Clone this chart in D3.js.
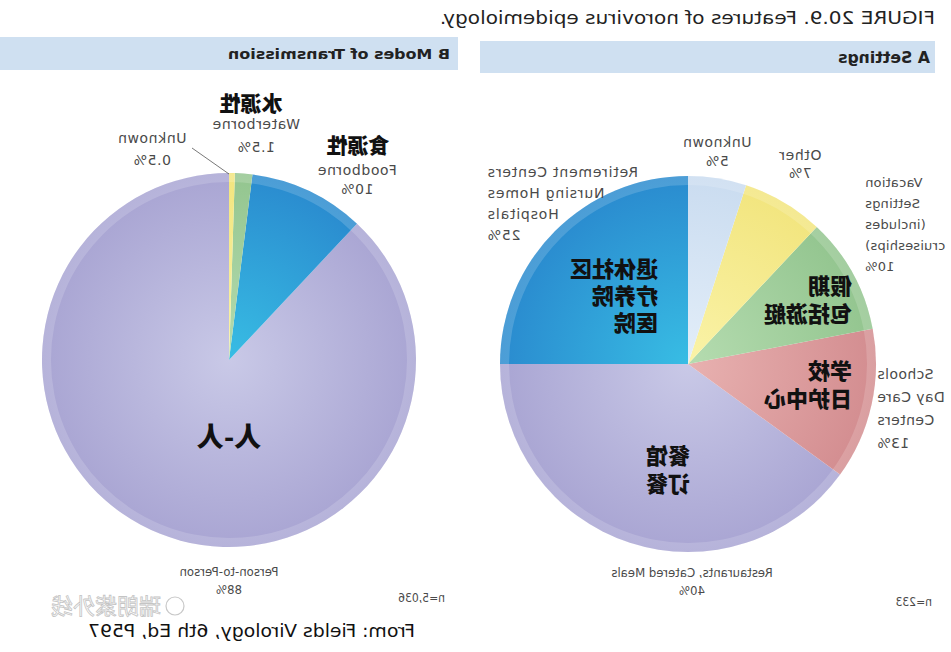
<!DOCTYPE html>
<html lang="en">
<head>
    <meta charset="UTF-8">
    <title>Norovirus epidemiology</title>
    <script type="text/javascript" src="https://d3js.org/d3.v7.min.js"></script>
    <style>
        body{ margin:0; background-color:white; }
        text{ font-family:"DejaVu Sans", sans-serif; }
    </style>
</head>
<body>
    <script type="text/javascript">
        var width=951;
        var height=652;

        // A  Settings  (n=233)
        var settingsNames=["Retirement Centers, Nursing Homes, Hospitals","Restaurants, Catered Meals","Schools, Day Care Centers","Vacation Settings","Other","Unknown"];
        var settingsValues=[25,40,13,10,7,5];
        var settingsInner=["#38bde4","#c9c9e7","#e8b1b0","#b5dcb0","#faf3a8","#e3eef9"];
        var settingsOuter=["#2a8bcf","#a9a5d3","#d38d90","#93c58f","#f2e57e","#cadcf0"];

        // B  Modes of Transmission  (n=5,036)
        var modeNames=["Person-to-Person","Foodborne","Waterborne","Unknown"];
        var modeValues=[88,10,1.5,0.5];
        var modeInner=["#c9c9e7","#38bde4","#b5dcb0","#faf3a8"];
        var modeOuter=["#a9a5d3","#2a8bcf","#93c58f","#f2e57e"];

        // the picture is mirrored left-right, so draw normally and flip everything
        var svg=d3.select("body").append("svg")
                .attr("width",width)
                .attr("height",height);
        var defs=svg.append("defs");
        var g=svg.append("g").attr("transform","translate("+width+",0) scale(-1,1)");

        var pie=d3.pie().sort(null).value(function(d){return d;});

        //画饼图
        function drawPie(id,cx,cy,r,values,inner,outer)
        {
            var pg=g.append("g").attr("transform","translate("+cx+","+cy+")");
            inner.forEach(function(c,i){
                var grad=defs.append("radialGradient")
                        .attr("id",id+i)
                        .attr("gradientUnits","userSpaceOnUse")
                        .attr("cx",0).attr("cy",0).attr("r",r);
                grad.append("stop").attr("offset","0%").attr("stop-color",c);
                grad.append("stop").attr("offset","100%").attr("stop-color",outer[i]);
            });
            var arc=d3.arc().innerRadius(0).outerRadius(r);
            pg.selectAll("path.slice")
                .data(pie(values))
                .enter()
                .append("path")
                .attr("class","slice")
                .attr("fill",function(d,i){return "url(#"+id+i+")";})
                .attr("d",arc);
            // lighter rim round the edge
            pg.append("path")
                .attr("d",d3.arc().innerRadius(r-9).outerRadius(r).startAngle(0).endAngle(2*Math.PI)())
                .attr("fill","white")
                .attr("opacity",0.16);
            return pg;
        }

        drawPie("gs",263,364,188,settingsValues,settingsInner,settingsOuter);
        drawPie("gm",722,360,187,modeValues,modeInner,modeOuter);

        //文字：翻转后再写，保证看起来和原图一样
        function label(x,y,lines,opt)
        {
            opt=opt||{};
            var step=opt.step||21;
            var t=g.append("text")
                .attr("transform","translate("+x+","+y+")")
                .attr("text-anchor",opt.anchor||"middle")
                .attr("font-size",opt.size||14)
                .attr("font-weight",opt.weight||"normal")
                .attr("letter-spacing",opt.ls||0)
                .attr("fill",opt.fill||"#4a4a4a");
            if(opt.family) t.style("font-family",opt.family);
            lines.forEach(function(s,i){
                t.append("tspan").attr("x",0).attr("y",i*step).text(s);
            });
            return t;
        }

        var cond="'DejaVu Sans Condensed', sans-serif";
        var cjk="'Noto Sans CJK SC', sans-serif";
        var big={size:22,weight:"900",fill:"#111",family:cjk,anchor:"start",step:28};

        // title and headers
        label(16,24,["FIGURE 20.9. Features of norovirus epidemiology."],{anchor:"start",size:18,fill:"#222",family:cond})
            .attr("textLength",495).attr("lengthAdjust","spacingAndGlyphs");
        g.append("rect").attr("x",16).attr("y",41).attr("width",455).attr("height",32).attr("fill","#cfe0f1");
        g.append("rect").attr("x",493).attr("y",37).attr("width",458).attr("height",33).attr("fill","#cfe0f1");
        label(21,63,["A  Settings"],{anchor:"start",size:15,weight:"bold",fill:"#222",family:cond})
            .attr("textLength",92).attr("lengthAdjust","spacingAndGlyphs");
        label(501,59,["B  Modes of Transmission"],{anchor:"start",size:14,weight:"bold",fill:"#222",family:cond})
            .attr("textLength",222).attr("lengthAdjust","spacingAndGlyphs");

        // settings labels
        label(234,147,["Unknown","5%"],{step:19,ls:0.6});
        label(151,160,["Other","7%"],{step:18,ls:0.6});
        label(86,187,["Vacation","Settings","(includes","cruiseships)","10%"],{anchor:"end",size:13,ls:0.2});
        label(464,177,["Retirement Centers","Nursing Homes","Hospitals","25%"],{anchor:"end",ls:0.8});
        label(74,379,["Schools","Day Care","Centers","13%"],{anchor:"end",step:23,ls:0.4});
        label(259,577,["Restaurants, Catered Meals","40%"],{step:18,size:13,family:cond});
        label(19,606,["n=233"],{anchor:"start",size:12,family:cond});

        label(293,277,["退休社区","疗养院","医院"],Object.assign({},big,{step:27}));
        label(99,294,["假期","包括游艇"],big);
        label(99,379,["学校","日护中心"],big);
        label(261,464,["餐馆","订餐"],big);

        // transmission labels
        label(700,111,["水源性"],{size:21,weight:"900",fill:"#111",family:cjk});
        label(695,129,["Waterborne","1.5%"],{step:23,ls:0.6});
        label(593,153,["食源性"],{size:21,weight:"900",fill:"#111",family:cjk});
        label(594,175,["Foodborne","10%"],{step:19,ls:0.6});
        label(799,143,["Unknown","0.5%"],{step:22,ls:0.6});
        g.append("line")
            .attr("x1",759).attr("y1",148)
            .attr("x2",722).attr("y2",174)
            .attr("stroke","#555").attr("stroke-width",0.8);
        label(722,447,["人-人"],{size:27,weight:"900",fill:"#111",family:cjk});
        label(722,576,["Person-to-Person","88%"],{step:18,size:13,family:cond});
        label(506,602,["n=5,036"],{anchor:"start",size:12,family:cond});

        // source line and watermark
        label(536,637,["From: Fields Virology, 6th Ed, P597"],{anchor:"start",size:17,fill:"#111",family:cond})
            .attr("textLength",327).attr("lengthAdjust","spacingAndGlyphs");
        g.append("circle").attr("cx",776).attr("cy",606).attr("r",9)
            .attr("fill","none").attr("stroke","#c8c8c8").attr("stroke-width",1.2);
        label(790,614,["瑞朗紫外线"],{anchor:"start",size:22,fill:"none",family:cjk})
            .attr("stroke","#c4c4c4").attr("stroke-width",0.8);
    </script>
</body>
</html>
